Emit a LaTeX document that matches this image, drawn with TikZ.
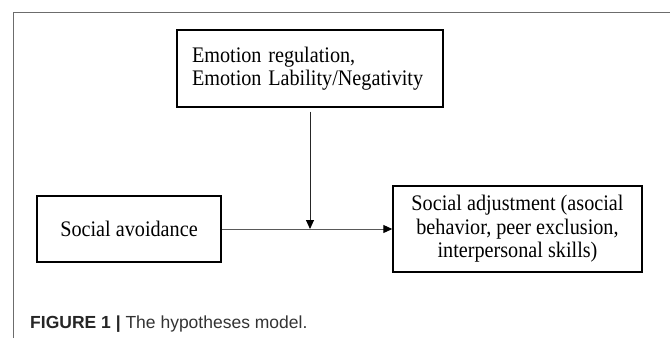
\documentclass[tikz,border=0pt]{standalone}
\usepackage{fontspec}
\usepackage{graphicx}
\setmainfont{Liberation Serif}
\setsansfont{Liberation Sans}
\usetikzlibrary{arrows.meta}
\newcommand{\vsline}[1]{\scalebox{1}[1.1]{#1}}
\begin{document}
\begin{tikzpicture}[x=1pt,y=-1pt,
  box/.style={draw=black,line width=1.4pt,inner sep=0pt,align=center,
    font=\fontsize{20.2}{23.5}\selectfont},
  conn/.style={line width=0.9pt,-{Triangle[length=9pt,width=8pt,color=black]}},
  frameline/.style={draw=gray!85!black,line width=1pt}]
\useasboundingbox (0,0) rectangle (670,338);
\draw[frameline] (13,338) -- (13,12) -- (670,12);
\node[box,minimum width=266pt,minimum height=77pt,text width=236pt,align=left] (mod) at (310,68.5)
  {\vsline{Emotion regulation,}\\\vsline{Emotion Lability/Negativity}};
\node[box,minimum width=184pt,minimum height=66pt] (sa) at (129,229) {\vsline{Social avoidance}};
\node[box,minimum width=249pt,minimum height=86pt] (adj) at (517.5,229)
  {\vsline{Social adjustment (asocial}\\\vsline{behavior, peer exclusion,}\\\vsline{interpersonal skills)}};
\coordinate (mid) at (310,229);
\coordinate (modout) at ([yshift=-4pt]mod.south);
\draw[conn,draw=gray!70!black] (sa.east) -- (adj.west);
\draw[conn,draw=black!85] (modout) -- (mid);
\node[anchor=base west,inner sep=0pt,font=\sffamily\fontsize{17.5}{20}\selectfont,text=black!80] (cap) at (30,328)
  {\textbf{\color{black!85}FIGURE 1 |} The hypotheses model.};
\end{tikzpicture}
\end{document}
